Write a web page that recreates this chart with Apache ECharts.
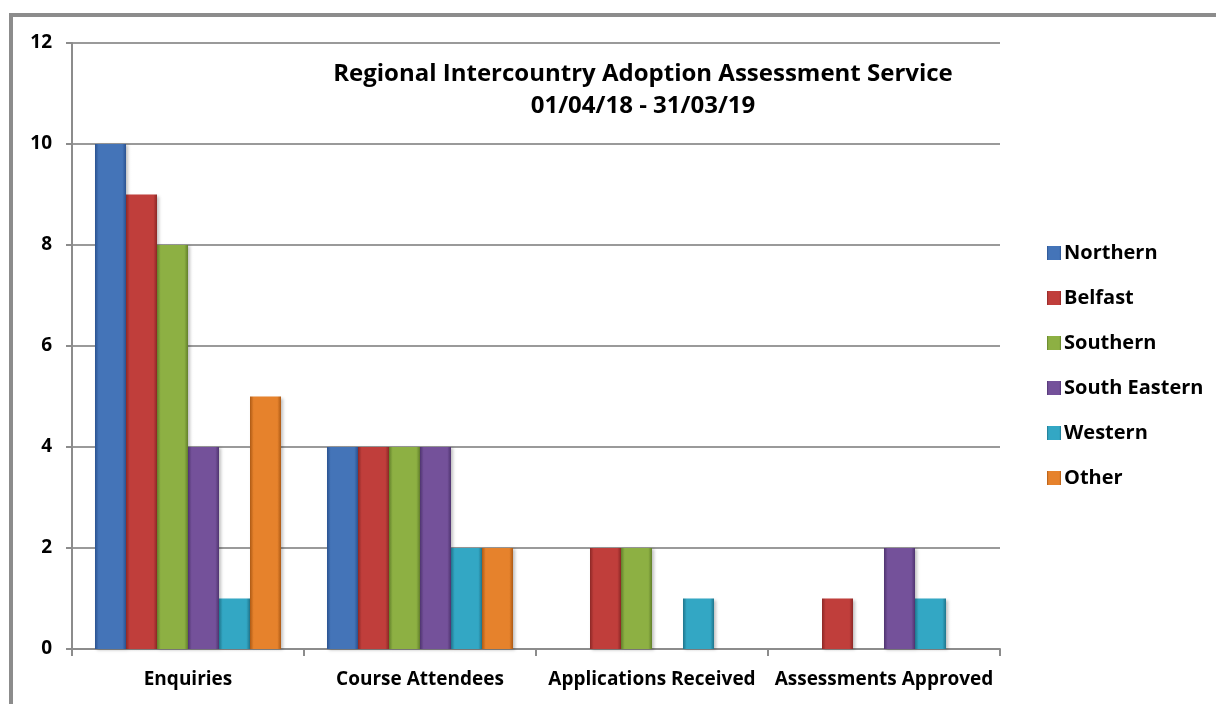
<!DOCTYPE html>
<html>
<head>
<meta charset="utf-8">
<script src="https://cdn.jsdelivr.net/npm/echarts@6/dist/echarts.min.js"></script>
<style>
html, body { margin: 0; padding: 0; background: #fff; }
#chart { width: 1216px; height: 704px; }
</style>
</head>
<body>
<div id="chart"></div>
<script>
var categories = ['Enquiries', 'Course Attendees', 'Applications Received', 'Assessments Approved'];
var northern = [10, 4, 0, 0];
var belfast = [9, 4, 2, 1];
var southern = [8, 4, 2, 0];
var southEastern = [4, 4, 0, 2];
var western = [1, 2, 1, 1];
var other = [5, 2, 0, 0];
var yTicks = [0, 2, 4, 6, 8, 10, 12];

var font = '"Open Sans", sans-serif';

// base colour, darker edge
var palette = {
    'Northern': ['#4474b8', '#2a5290'],
    'Belfast': ['#c03e3b', '#8c2826'],
    'Southern': ['#8db043', '#62802b'],
    'South Eastern': ['#74519a', '#4f3470'],
    'Western': ['#33a7c4', '#1f758c'],
    'Other': ['#e6822c', '#ad5a15']
};

function makeSeries(name, data) {
    var c = palette[name];
    return {
        name: name,
        type: 'bar',
        barWidth: 31,
        barGap: '0%',
        data: data.map(function (v) { return v === 0 ? null : v; }),
        itemStyle: {
            color: new echarts.graphic.LinearGradient(0, 0, 1, 0, [
                { offset: 0, color: c[1] },
                { offset: 0.12, color: c[0] },
                { offset: 0.88, color: c[0] },
                { offset: 1, color: c[1] }
            ]),
            shadowColor: 'rgba(0,0,0,0.25)',
            shadowBlur: 3,
            shadowOffsetX: 2,
            shadowOffsetY: 1
        }
    };
}

var chart = echarts.init(document.getElementById('chart'));
chart.setOption({
    backgroundColor: '#fff',
    animation: false,
    graphic: [{
        type: 'rect',
        shape: { x: 11, y: 15, width: 1300, height: 800 },
        style: { fill: 'none', stroke: '#8c8c8c', lineWidth: 4 },
        silent: true
    }],
    title: {
        text: 'Regional Intercountry Adoption Assessment Service\n01/04/18 - 31/03/19',
        left: 638,
        top: 53,
        textAlign: 'center',
        textStyle: {
            fontFamily: font,
            fontWeight: 'bold',
            fontSize: 24,
            lineHeight: 32,
            color: '#000'
        }
    },
    legend: {
        orient: 'vertical',
        left: 1042,
        top: 235,
        itemWidth: 14,
        itemHeight: 14,
        itemGap: 19,
        icon: 'rect',
        textStyle: {
            fontFamily: font,
            fontWeight: 'bold',
            fontSize: 20,
            lineHeight: 26,
            color: '#000',
            padding: [0, 0, 0, -2]
        },
        data: ['Northern', 'Belfast', 'Southern', 'South Eastern', 'Western', 'Other']
    },
    grid: {
        left: 72,
        right: 216,
        top: 43,
        bottom: 55
    },
    xAxis: {
        type: 'category',
        data: categories,
        axisLine: { lineStyle: { color: '#8c8c8c', width: 2 } },
        axisTick: { show: true, interval: 0, length: 7, lineStyle: { color: '#8c8c8c', width: 2 } },
        axisLabel: {
            interval: 0,
            fontFamily: font,
            fontWeight: 'bold',
            fontSize: 19,
            color: '#000',
            margin: 21
        }
    },
    yAxis: {
        type: 'value',
        min: yTicks[0],
        max: yTicks[yTicks.length - 1],
        interval: 2,
        axisLine: { show: true, lineStyle: { color: '#8c8c8c', width: 2 } },
        axisTick: { show: true, length: 6, lineStyle: { color: '#8c8c8c', width: 2 } },
        splitLine: { lineStyle: { color: '#9a9a9a', width: 2 } },
        axisLabel: {
            fontFamily: font,
            fontWeight: 'bold',
            fontSize: 19,
            color: '#000',
            margin: 20
        }
    },
    series: [
        makeSeries('Northern', northern),
        makeSeries('Belfast', belfast),
        makeSeries('Southern', southern),
        makeSeries('South Eastern', southEastern),
        makeSeries('Western', western),
        makeSeries('Other', other)
    ]
});
</script>
</body>
</html>
